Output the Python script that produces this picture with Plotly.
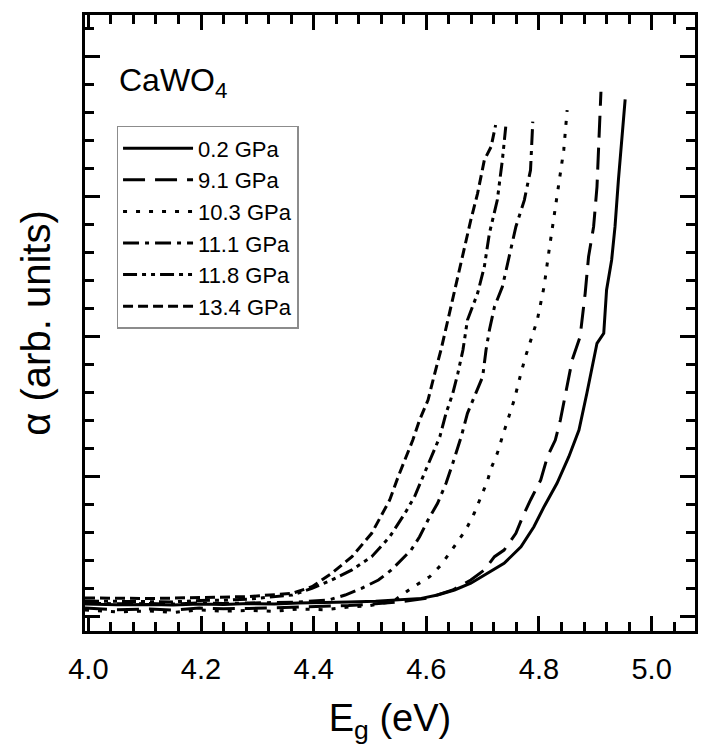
import plotly.graph_objects as go

# Photon energy (eV) and absorption (arb. units) for each pressure
labels = ["0.2 GPa", "9.1 GPa", "10.3 GPa", "11.1 GPa", "11.8 GPa", "13.4 GPa"]

e_02 = [3.994, 4.05, 4.109, 4.15, 4.197, 4.24, 4.285, 4.33, 4.373, 4.42, 4.462, 4.51, 4.555,
        4.591, 4.620, 4.650, 4.679, 4.709, 4.738, 4.768, 4.791, 4.809, 4.832, 4.853, 4.871,
        4.885, 4.897, 4.903, 4.915, 4.920, 4.929, 4.935, 4.941, 4.947, 4.953]
a_02 = [0.091, 0.085, 0.087, 0.083, 0.091, 0.088, 0.094, 0.090, 0.098, 0.100, 0.105, 0.110, 0.119,
        0.131, 0.155, 0.191, 0.239, 0.310, 0.381, 0.500, 0.643, 0.786, 0.953, 1.143, 1.334,
        1.596, 1.834, 1.953, 2.024, 2.334, 2.548, 2.786, 3.119, 3.417, 3.696]

e_91 = [3.994, 4.05, 4.109, 4.15, 4.197, 4.24, 4.285, 4.33, 4.373, 4.42, 4.462, 4.51, 4.550,
        4.603, 4.647, 4.679, 4.703, 4.721, 4.738, 4.759, 4.771, 4.785, 4.803, 4.815, 4.829,
        4.838, 4.850, 4.859, 4.873, 4.882, 4.888, 4.897, 4.903, 4.906, 4.910]
a_91 = [0.062, 0.050, 0.055, 0.048, 0.062, 0.057, 0.059, 0.064, 0.069, 0.072, 0.080, 0.092, 0.105,
        0.134, 0.191, 0.262, 0.334, 0.429, 0.476, 0.596, 0.714, 0.834, 0.976, 1.143, 1.262,
        1.405, 1.643, 1.834, 2.0, 2.31, 2.571, 2.786, 3.071, 3.429, 3.75]

e_103 = [3.994, 4.05, 4.109, 4.15, 4.197, 4.24, 4.285, 4.33, 4.373, 4.42, 4.462, 4.50, 4.541,
         4.573, 4.606, 4.626, 4.641, 4.656, 4.670, 4.685, 4.697, 4.708, 4.715, 4.726, 4.735,
         4.747, 4.756, 4.768, 4.776, 4.797, 4.809, 4.818, 4.826, 4.835, 4.844, 4.850]
a_103 = [0.048, 0.035, 0.041, 0.030, 0.048, 0.040, 0.045, 0.038, 0.055, 0.050, 0.069, 0.080, 0.110,
         0.203, 0.286, 0.369, 0.453, 0.536, 0.619, 0.739, 0.857, 0.964, 1.06, 1.167, 1.286,
         1.429, 1.548, 1.739, 1.857, 2.119, 2.357, 2.619, 2.834, 3.096, 3.334, 3.619]

e_111 = [3.994, 4.05, 4.109, 4.15, 4.197, 4.24, 4.285, 4.33, 4.373, 4.426, 4.456, 4.485, 4.515,
         4.538, 4.559, 4.573, 4.588, 4.603, 4.620, 4.635, 4.647, 4.662, 4.673, 4.688, 4.700,
         4.706, 4.712, 4.721, 4.735, 4.747, 4.759, 4.774, 4.785, 4.789]
a_111 = [0.098, 0.092, 0.094, 0.090, 0.098, 0.095, 0.098, 0.100, 0.105, 0.119, 0.155, 0.203, 0.262,
         0.334, 0.417, 0.476, 0.571, 0.691, 0.81, 0.953, 1.096, 1.286, 1.453, 1.596, 1.714,
         1.905, 2.048, 2.214, 2.357, 2.571, 2.786, 2.976, 3.191, 3.536]

e_118 = [3.994, 4.05, 4.109, 4.15, 4.197, 4.24, 4.285, 4.362, 4.397, 4.432, 4.468, 4.503, 4.535,
         4.547, 4.562, 4.579, 4.594, 4.609, 4.624, 4.635, 4.647, 4.656, 4.665, 4.673, 4.691,
         4.703, 4.712, 4.726, 4.735, 4.741]
a_118 = [0.112, 0.108, 0.109, 0.106, 0.116, 0.118, 0.126, 0.155, 0.203, 0.262, 0.334, 0.429, 0.571,
         0.643, 0.739, 0.857, 1.0, 1.143, 1.286, 1.453, 1.596, 1.739, 1.905, 2.119, 2.31,
         2.5, 2.739, 2.976, 3.262, 3.5]

e_134 = [3.994, 4.05, 4.109, 4.15, 4.197, 4.24, 4.285, 4.362, 4.397, 4.432, 4.468, 4.503, 4.535,
         4.550, 4.562, 4.576, 4.588, 4.603, 4.615, 4.626, 4.641, 4.653, 4.665, 4.679, 4.691,
         4.703, 4.715, 4.723]
a_134 = [0.134, 0.131, 0.130, 0.133, 0.137, 0.140, 0.144, 0.167, 0.214, 0.310, 0.429, 0.596, 0.834,
         1.0, 1.119, 1.262, 1.405, 1.548, 1.739, 1.905, 2.167, 2.381, 2.596, 2.834, 3.024,
         3.262, 3.357, 3.512]

x_ticks = [4.0, 4.2, 4.4, 4.6, 4.8, 5.0]
x_ticktext = ["4.0", "4.2", "4.4", "4.6", "4.8", "5.0"]

series = [(e_02, a_02), (e_91, a_91), (e_103, a_103), (e_111, a_111), (e_118, a_118), (e_134, a_134)]
dashes = ["solid", "22px,10px", "4px,9px", "16px,6px,4px,6px", "14px,5px,4px,5px,4px,5px", "10px,5px"]

FONT = "Arial, Liberation Sans, Helvetica, sans-serif"

fig = go.Figure()
for (ex, ay), name, d in zip(series, labels, dashes):
    fig.add_trace(go.Scatter(x=ex, y=ay, mode="lines", name=name,
                             line=dict(color="black", width=3, dash=d)))

axis_common = dict(showline=True, linewidth=3, linecolor="black", mirror="ticks",
                   ticks="inside", ticklen=15, tickwidth=2.5, tickcolor="black",
                   showgrid=False, zeroline=False)

fig.update_xaxes(range=[3.994, 5.077], tickvals=x_ticks, ticktext=x_ticktext,
                 minor=dict(ticks="inside", ticklen=9, tickwidth=2.5, tickcolor="black", dtick=0.04, tick0=4.0),
                 tickfont=dict(family=FONT, size=29, color="black"), ticklabelstandoff=10,
                 title=dict(text="E<sub>g</sub> (eV)", font=dict(family=FONT, size=38, color="black"), standoff=21),
                 **axis_common)
fig.update_yaxes(range=[-0.102, 4.298], tick0=0, dtick=1, showticklabels=False,
                 minor=dict(ticks="inside", ticklen=9, tickwidth=2.5, tickcolor="black", dtick=0.2, tick0=0),
                 title=dict(text="α (arb. units)", font=dict(family=FONT, size=40, color="black"), standoff=20),
                 **axis_common)

fig.add_annotation(xref="paper", yref="paper", x=0.053, y=0.89, xanchor="left", yanchor="middle",
                   text="CaWO<sub>4</sub>", showarrow=False,
                   font=dict(family=FONT, size=32, color="black"))

fig.update_layout(
    width=701, height=753,
    margin=dict(l=85, r=3, t=15, b=122),
    paper_bgcolor="white", plot_bgcolor="white",
    showlegend=True,
    legend=dict(x=0.0517, y=0.82, xanchor="left", yanchor="top",
                bordercolor="#8c8c8c", borderwidth=1.5, bgcolor="white",
                font=dict(family=FONT, size=22, color="black"), itemwidth=70,
                tracegroupgap=0),
)

fig.write_html("out.html")
